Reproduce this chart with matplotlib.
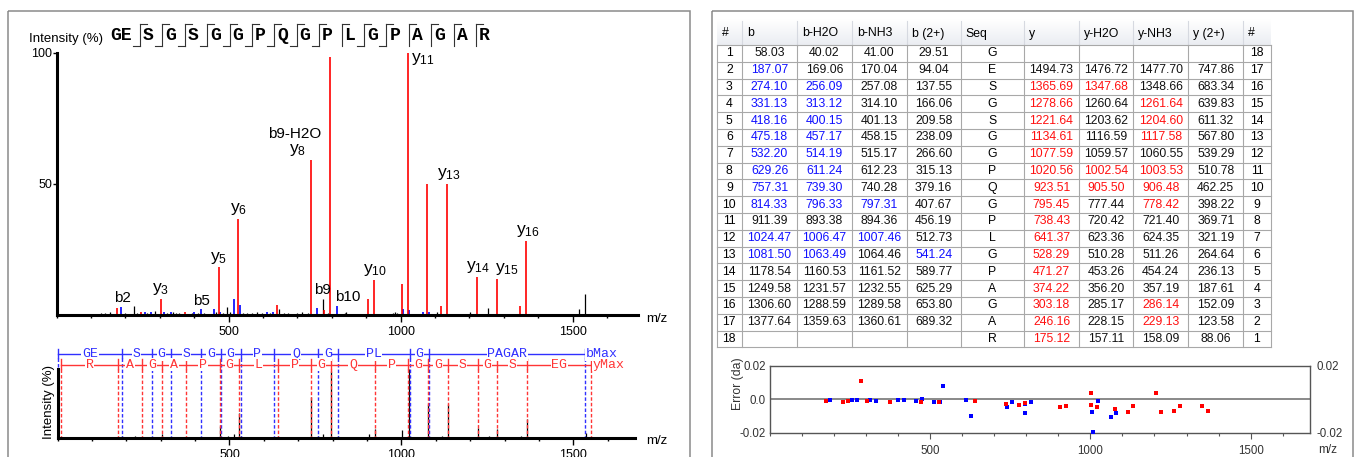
import numpy as np
import matplotlib.pyplot as plt
from matplotlib.patches import Rectangle
from matplotlib.ticker import MultipleLocator
from matplotlib.transforms import blended_transform_factory

W, H = 1357, 457
plt.rcParams['font.family'] = ['Liberation Sans', 'DejaVu Sans']
plt.rcParams['mathtext.default'] = 'regular'

# ---- peptide / fragment table ----
sequence = list('GESGSGGPQGPLGPAGAR')
b_ion = [58.03, 187.07, 274.10, 331.13, 418.16, 475.18, 532.20, 629.26, 757.31, 814.33,
         911.39, 1024.47, 1081.50, 1178.54, 1249.58, 1306.60, 1377.64, None]
b_h2o = [40.02, 169.06, 256.09, 313.12, 400.15, 457.17, 514.19, 611.24, 739.30, 796.33,
         893.38, 1006.47, 1063.49, 1160.53, 1231.57, 1288.59, 1359.63, None]
b_nh3 = [41.00, 170.04, 257.08, 314.10, 401.13, 458.15, 515.17, 612.23, 740.28, 797.31,
         894.36, 1007.46, 1064.46, 1161.52, 1232.55, 1289.58, 1360.61, None]
b_2plus = [29.51, 94.04, 137.55, 166.06, 209.58, 238.09, 266.60, 315.13, 379.16, 407.67,
           456.19, 512.73, 541.24, 589.77, 625.29, 653.80, 689.32, None]
y_ion = [None, 1494.73, 1365.69, 1278.66, 1221.64, 1134.61, 1077.59, 1020.56, 923.51, 795.45,
         738.43, 641.37, 528.29, 471.27, 374.22, 303.18, 246.16, 175.12]
y_h2o = [None, 1476.72, 1347.68, 1260.64, 1203.62, 1116.59, 1059.57, 1002.54, 905.50, 777.44,
         720.42, 623.36, 510.28, 453.26, 356.20, 285.17, 228.15, 157.11]
y_nh3 = [None, 1477.70, 1348.66, 1261.64, 1204.60, 1117.58, 1060.55, 1003.53, 906.48, 778.42,
         721.40, 624.35, 511.26, 454.24, 357.19, 286.14, 229.13, 158.09]
y_2plus = [None, 747.86, 683.34, 639.83, 611.32, 567.80, 539.29, 510.78, 462.25, 398.22,
           369.71, 321.19, 264.64, 236.13, 187.61, 152.09, 123.58, 88.06]
col_names = ['#', 'b', 'b-H2O', 'b-NH3', 'b (2+)', 'Seq', 'y', 'y-H2O', 'y-NH3', 'y (2+)', '#']

# ---- matched ions and their mass errors (da) ----
b_match_mz = [187.07, 256.09, 274.10, 313.12, 331.13, 400.15, 418.16, 457.17, 475.18, 514.19,
              532.20, 541.24, 611.24, 629.26, 739.30, 757.31, 796.33, 797.31, 814.33, 1006.47,
              1007.46, 1024.47, 1063.49, 1081.50]
b_match_err = [-0.0004, -0.0004, -0.0004, -0.0004, -0.0010, -0.0004, -0.0004, -0.0010, 0.0004, -0.0016,
               -0.0016, 0.0079, -0.0004, -0.0098, -0.0044, -0.0014, -0.0028, -0.0084, -0.0014, -0.0078,
               -0.0197, -0.0010, -0.0104, -0.0084]
y_match_mz = [175.12, 229.13, 246.16, 286.14, 303.18, 374.22, 471.27, 528.29, 641.37, 738.43,
              778.42, 795.45, 905.50, 906.48, 923.51, 1002.54, 1003.53, 1020.56, 1077.59, 1117.58,
              1134.61, 1204.60, 1221.64, 1261.64, 1278.66, 1347.68, 1365.69]
y_match_err = [-0.0010, -0.0016, -0.0010, 0.0111, -0.0010, -0.0016, -0.0016, -0.0016, -0.0010, -0.0028,
               -0.0034, -0.0024, -0.0044, -0.0044, -0.0040, 0.0036, -0.0034, -0.0046, -0.0060, -0.0078,
               -0.0040, 0.0036, -0.0078, -0.0072, -0.0040, -0.0040, -0.0068]

# ---- spectrum peaks (m/z, relative intensity %) ----
red_mz = [175.1, 246.2, 303.2, 374.2, 471.3, 528.3, 641.4, 738.4, 778.4, 795.5, 905.5, 923.5,
          1002.5, 1020.6, 1077.6, 1117.6, 1134.6, 1204.6, 1221.6, 1261.6, 1278.7, 1347.7, 1365.7]
red_int = [2.5, 1.3, 6.1, 1.0, 18.3, 36.5, 3.8, 59.2, 2.0, 98.2, 6.1, 13.3,
           12.0, 100.0, 50.1, 3.5, 50.1, 0.5, 14.6, 0.5, 13.6, 3.6, 28.3]
blue_mz = [187.1, 256.1, 274.1, 313.1, 331.1, 400.2, 418.2, 457.2, 475.2, 514.2, 532.2, 611.2,
           629.3, 757.3, 814.3, 1006.5, 1024.5, 1063.5, 1081.5]
blue_int = [2.9, 1.0, 1.3, 1.0, 1.0, 1.0, 2.3, 2.1, 1.0, 6.1, 3.8, 1.3,
            1.3, 2.8, 3.5, 2.3, 1.8, 1.0, 1.0]
black_mz = [115, 128, 141, 155, 199, 224, 233, 262, 286, 296, 320, 338, 346, 356, 366, 392, 410,
            428, 440, 463, 484, 496, 503, 541, 552, 568, 582, 597, 620, 647, 660, 673, 700, 712,
            730, 773, 788, 838, 842, 860, 978, 983, 988, 1050, 1106, 1160, 1201, 1255, 1328, 1379,
            1518, 1536]
black_int = [0.5, 0.7, 0.6, 1.2, 0.8, 3.4, 0.6, 0.7, 1.5, 0.5, 0.8, 1.0, 0.7, 0.6, 0.5, 0.7, 0.6,
             0.9, 0.5, 1.0, 0.8, 2.9, 1.0, 0.9, 0.6, 0.6, 1.0, 0.6, 0.6, 2.2, 0.6, 0.8, 0.6, 1.3,
             0.6, 6.0, 0.6, 0.6, 1.2, 0.4, 0.8, 1.0, 0.7, 0.5, 1.0, 0.4, 1.3, 2.8, 0.5, 0.5,
             2.3, 8.0]

# peak annotations: text, m/z, intensity
ann_text = ['b2', 'y$_{3}$', 'b5', 'y$_{5}$', 'y$_{6}$', 'y$_{8}$', 'b9-H2O', 'b9', 'b10',
            'y$_{10}$', 'y$_{11}$', 'y$_{13}$', 'y$_{14}$', 'y$_{15}$', 'y$_{16}$']
ann_mz = [187.07, 303.18, 418.16, 471.27, 528.29, 738.43, 739.30, 757.31, 814.33,
          923.51, 1020.56, 1134.61, 1221.64, 1278.66, 1365.69]
ann_int = [2.9, 6.1, 2.3, 18.3, 36.5, 59.2, 59.2, 2.8, 3.5, 13.3, 100.0, 50.1, 14.6, 13.6, 28.3]
# label offsets in pixels (dx, dy, ha, va)
ann_style = [(1, 2, 'center', 'bottom'), (0, 2, 'center', 'bottom'), (1, 1, 'center', 'bottom'),
             (0, 1, 'center', 'bottom'), (0.5, 2, 'center', 'bottom'), (-13, 2, 'center', 'bottom'),
             (-16, 19, 'center', 'bottom'), (5, 11, 'center', 'bottom'), (-2, 1.5, 'left', 'bottom'),
             (1, 2, 'center', 'bottom'), (3, 2, 'left', 'top'), (1.5, 1.5, 'center', 'bottom'),
             (1.3, 1.5, 'center', 'bottom'), (10, 2, 'center', 'bottom'), (1.4, 2, 'center', 'bottom')]

RED = '#ff1010'
BLUE = '#1010ff'
TFS = 8.8  # table font size

fig = plt.figure(figsize=(W / 100, H / 100), dpi=100)


def px_box(l, t, r, b):
    return [l / W, 1 - b / H, (r - l) / W, (b - t) / H]


bg = fig.add_axes([0, 0, 1, 1])
bg.axis('off')

# panel frames
bg.add_patch(Rectangle((8, 10.7), 682, H, fill=False, ec='#8a8a8a', lw=1.1))
bg.add_patch(Rectangle((711.7, 10.7), 641.3, H, fill=False, ec='#8a8a8a', lw=1.1))

# ---- top spectrum ----
ax = fig.add_axes(px_box(56.7, 52.7, 638, 315))
ax.vlines(black_mz, 0, black_int, color='black', lw=0.9)
ax.vlines(blue_mz, 0, blue_int, color='#0000ff', lw=1.2)
ax.vlines(red_mz, 0, red_int, color='#ff0000', lw=1.2)
ax.set_xlim(0, 1690)
ax.set_ylim(0, 100)
for s in ['top', 'right']:
    ax.spines[s].set_visible(False)
for s in ['left', 'bottom']:
    ax.spines[s].set_linewidth(2.2)
ax.set_yticks([50, 100])
ax.set_xticks([500, 1000, 1500])
ax.xaxis.set_minor_locator(MultipleLocator(100))
ax.tick_params(axis='y', length=3, width=1, labelsize=9, pad=0)
ax.tick_params(axis='x', which='major', length=5, width=1, labelsize=9, pad=3)
ax.tick_params(axis='x', which='minor', length=2.5, width=1)
for t, m, i, st in zip(ann_text, ann_mz, ann_int, ann_style):
    fs = 12.5 if t.startswith('y') else 11
    ax.annotate(t, (m, i), xytext=(st[0], st[1]), textcoords='offset pixels',
                ha=st[2], va=st[3], fontsize=fs, annotation_clip=False)
bg.text(646, 319, 'm/z', ha='left', va='center', fontsize=9.5)
bg.text(29, 39, 'Intensity (%)', ha='left', va='center', fontsize=9.5)

# matched fragment numbers
b_set = {f'{x:.2f}' for x in b_match_mz}
y_set = {f'{x:.2f}' for x in y_match_mz}
b_idx = sorted(i + 1 for i, v in enumerate(b_ion) if v is not None and f'{v:.2f}' in b_set)
y_idx = sorted(18 - i for i, v in enumerate(y_ion) if v is not None and f'{v:.2f}' in y_set)

# sequence with fragment markers
bg.text(121, 35.5, 'GE', ha='center', va='center', family='Liberation Mono', weight='bold', fontsize=13)
for k, res in enumerate(sequence[2:]):
    mx = 140 + 22.4 * k
    cut = k + 2
    bg.plot([mx, mx], [24.3, 45.7], color='#333333', lw=0.8)
    if (18 - cut) in y_idx:
        bg.plot([mx, mx + 7], [24.3, 24.3], color='#333333', lw=0.8)
    if cut in b_idx:
        bg.plot([mx - 7, mx], [45.7, 45.7], color='#333333', lw=0.8)
    bg.text(mx + 8.3, 35.5, res, ha='center', va='center', family='Liberation Mono',
            weight='bold', fontsize=13)

# ---- bottom ladder spectrum ----
ax2 = fig.add_axes(px_box(57.5, 369.3, 635.3, 438.3))
all_mz = black_mz + blue_mz + red_mz
all_int = black_int + blue_int + red_int
ax2.vlines(all_mz, 0, all_int, color='black', lw=0.9)
ax2.set_xlim(0, 1680)
ax2.set_ylim(0, 100)
for s in ['top', 'right']:
    ax2.spines[s].set_visible(False)
for s in ['left', 'bottom']:
    ax2.spines[s].set_linewidth(2.2)
ax2.set_yticks([])
ax2.set_xticks([500, 1000, 1500])
ax2.xaxis.set_minor_locator(MultipleLocator(100))
ax2.tick_params(axis='x', which='major', length=5, width=1, labelsize=9, pad=3)
ax2.tick_params(axis='x', which='minor', length=2.5, width=1)
bg.text(49, 401.7, 'Intensity (%)', rotation=90, ha='center', va='center', fontsize=9.5)
bg.text(646, 441.5, 'm/z', ha='left', va='center', fontsize=9.5)

tr = blended_transform_factory(ax2.transData, bg.transData)
b_cuts = [0] + b_idx + [18]
b_pos = [1.01] + [b_ion[i - 1] for i in b_idx] + [b_ion[16] + 156.10]
y_cuts = [0] + y_idx + [18]
y_pos = [11.0] + [y_ion[18 - i] for i in y_idx] + [y_ion[1] + 57.02]
rev_seq = sequence[::-1]
ladders = [(b_cuts, b_pos, sequence, '#3030ff', 354.0, 349.3, 358.3, 'bMax'),
           (y_cuts, y_pos, rev_seq, '#ff3535', 364.7, 359.3, 369.3, 'yMax')]
for cuts, pos, seq, col, ly, t0, t1, end_lbl in ladders:
    ax2.plot([pos[0], pos[-1]], [ly, ly], color=col, lw=1.0, transform=tr, clip_on=False)
    for p in pos:
        ax2.plot([p, p], [t0, t1], color=col, lw=1.0, transform=tr, clip_on=False)
        ax2.plot([p, p], [t1, 438.3], color=col, lw=1.0, ls=(0, (2.5, 1.5)), transform=tr,
                 clip_on=False)
    for j in range(len(cuts) - 1):
        lbl = ''.join(seq[cuts[j]:cuts[j + 1]])
        ax2.text((pos[j] + pos[j + 1]) / 2, ly, lbl, transform=tr, ha='center', va='center',
                 family='Liberation Mono', fontsize=9.5, color=col, clip_on=False,
                 bbox=dict(boxstyle='square,pad=0.05', fc='white', ec='none'))
    ax2.text(pos[-1] + 3, ly, end_lbl, transform=tr, ha='left', va='center',
             family='Liberation Mono', fontsize=9.5, color=col, clip_on=False,
             bbox=dict(boxstyle='square,pad=0.05', fc='white', ec='none'))

# ---- fragment table ----
col_edges = [717, 741.7, 797.3, 851.7, 906.7, 960.7, 1024, 1079, 1133.3, 1188.3, 1243.3, 1270.7]
head_top, head_bot, row_h = 19, 45, 16.8
grad = np.linspace(1.0, 0.0, 26)[:, None, None] * np.array([0.08, 0.07, 0.05]) + np.array([0.92, 0.93, 0.95])
bg.imshow(grad, extent=(col_edges[0], col_edges[-1], head_bot, head_top), aspect='auto',
          interpolation='bilinear', zorder=0)
for x in col_edges[1:-1]:
    bg.plot([x, x], [head_top + 2, head_bot], color='#d6d9e0', lw=0.8)
for c, name in enumerate(col_names):
    bg.text(col_edges[c] + 5, 33.5, name, ha='left', va='center', fontsize=TFS)

n_rows = len(sequence)
columns = [(b_ion, b_set, BLUE), (b_h2o, b_set, BLUE), (b_nh3, b_set, BLUE), (b_2plus, b_set, BLUE),
           None, (y_ion, y_set, RED), (y_h2o, y_set, RED), (y_nh3, y_set, RED), (y_2plus, set(), RED)]
table_bot = head_bot + n_rows * row_h
for r in range(n_rows + 1):
    yy = head_bot + r * row_h
    bg.plot([col_edges[0], col_edges[-1]], [yy, yy], color='#a8a8a8', lw=0.8)
for x in col_edges:
    bg.plot([x, x], [head_bot, table_bot], color='#a8a8a8', lw=0.8)
cx = [(col_edges[c] + col_edges[c + 1]) / 2 for c in range(11)]
for r in range(n_rows):
    yc = head_bot + (r + 0.5) * row_h
    bg.text(cx[0], yc, str(r + 1), ha='center', va='center', fontsize=TFS)
    bg.text(cx[10], yc, str(n_rows - r), ha='center', va='center', fontsize=TFS)
    bg.text(cx[5], yc, sequence[r], ha='center', va='center', fontsize=TFS)
    for c, spec in enumerate(columns):
        if spec is None:
            continue
        vals, hits, hcol = spec
        v = vals[r]
        if v is None:
            continue
        s = f'{v:.2f}'
        bg.text(cx[c + 1], yc, s, ha='center', va='center', fontsize=TFS,
                color=hcol if s in hits else '#111111')

# ---- mass error plot ----
ax3 = fig.add_axes(px_box(769.5, 365.7, 1310, 432.7))
ax3.axhline(0, color='#808080', lw=1.3, zorder=1)
ax3.scatter(b_match_mz, b_match_err, marker='s', s=11, color='#0000ff', lw=0, zorder=3)
ax3.scatter(y_match_mz, y_match_err, marker='s', s=11, color='#ff0000', lw=0, zorder=4)
ax3.set_xlim(0, 1685)
ax3.set_ylim(-0.02, 0.02)
for s in ax3.spines.values():
    s.set_color('#555555')
    s.set_linewidth(1.0)
ax3.set_yticks([-0.02, 0.0, 0.02])
ax3.set_yticklabels(['-0.02', '0.0', '0.02'])
ax3.set_xticks([500, 1000, 1500])
ax3.xaxis.set_minor_locator(MultipleLocator(100))
ax3.tick_params(axis='y', length=0, labelsize=8.3, pad=2.5, labelcolor='#333333')
ax3.tick_params(axis='x', which='major', length=4, width=0.8, color='#555555', labelsize=8.3,
                pad=5, labelcolor='#333333')
ax3.tick_params(axis='x', which='minor', length=2.5, width=0.8, color='#555555')
ax3r = ax3.twinx()
ax3r.set_ylim(-0.02, 0.02)
ax3r.set_yticks([-0.02, 0.02])
ax3r.set_yticklabels(['-0.02', '0.02'])
ax3r.tick_params(axis='y', length=0, labelsize=8.3, pad=5, labelcolor='#333333')
for s in ax3r.spines.values():
    s.set_visible(False)
bg.text(737.7, 384, 'Error (da)', rotation=90, ha='center', va='center', fontsize=8.8, color='#333333')
bg.text(1318, 450, 'm/z', ha='left', va='center', fontsize=8.5, color='#333333')

bg.set_xlim(0, W)
bg.set_ylim(H, 0)

fig.savefig('out.png', dpi=100)
